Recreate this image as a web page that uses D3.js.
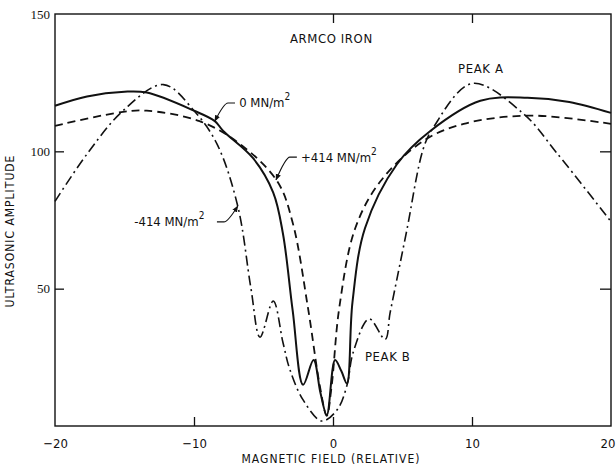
<!DOCTYPE html>
<html>
<head>
<meta charset="utf-8">
<script src="https://cdn.jsdelivr.net/npm/d3@7"></script>
<style>
  body { margin: 0; background: #fff; }
  svg { display: block; }
  .lbl { font-family: "Liberation Sans Narrow", "DejaVu Sans Condensed", "Liberation Sans", sans-serif; font-size: 12px; fill: #111; }
  .ytick { font-family: "Liberation Serif", "DejaVu Serif", serif; font-size: 13px; fill: #111; }
</style>
</head>
<body>
<div id="chart"></div>
<script>
// data (field in relative units, amplitude)
var solidX = [-20, -17.7, -15, -13.4, -10, -8.5, -7.9, -5.75, -4.3, -3.6, -2.9, -2.15, -1.4, -0.9, -0.45, 0.15, 0.6, 1.0, 1.4, 2.3, 4.6, 7, 10.6, 14, 17, 20];
var solidY = [116.6, 120, 121.7, 121.4, 114.8, 111, 107.4, 97.5, 85, 70, 42, 15, 24, 12, 4, 24, 20, 15.5, 45, 72, 95.3, 107.4, 118.4, 119.5, 118, 114];

var dashX = [-20, -15.1, -13.4, -9.6, -6.7, -4, -2.9, -1.8, -0.95, -0.45, -0.1, 0.45, 1.6, 3.4, 6.5, 9.4, 14.2, 20];
var dashY = [109.3, 114.4, 114.8, 111, 102.7, 89, 74, 43, 14.7, 3.7, 14.5, 43, 72, 89, 103.8, 110, 113, 110];

var dotX = [-20, -17.7, -15.1, -12.2, -10, -8.35, -6.85, -5.9, -5.25, -4.3, -3.6, -3.1, -2.15, -0.8, 0.3, 1, 1.45, 2.6, 3.75, 4.1, 4.7, 5.3, 6.5, 7.2, 10, 13.7, 16.1, 20];
var dotY = [81.8, 99, 114.8, 124.3, 114.8, 102.7, 80, 50, 32.3, 45.5, 30.4, 20.5, 9.5, 1.8, 5.9, 14.7, 26.8, 39, 31.5, 41, 56, 71, 101, 108.5, 124.7, 113.7, 99.4, 74.4];

var xTicks = [-20, -10, 0, 10, 20];
var yTicks = [50, 100, 150];

var margin = {top: 14, right: 5, bottom: 42, left: 55},
  width = 616 - margin.left - margin.right,
  height = 468 - margin.top - margin.bottom;

var svg = d3.select("#chart")
.append("svg")
  .attr("width", 616)
  .attr("height", 468)
.append("g")
  .attr("transform", "translate(" + margin.left + "," + margin.top + ")");

var x = d3.scaleLinear().domain([-20, 20]).range([0, width]);
var y = d3.scaleLinear().domain([0, 150]).range([height, 0]);

// frame
svg.append("rect")
  .attr("width", width).attr("height", height)
  .attr("fill", "none").attr("stroke", "#111").attr("stroke-width", 1.4);

// bottom axis, ticks pointing in
var xAxis = svg.append("g")
  .attr("transform", "translate(0," + height + ")")
  .call(d3.axisBottom(x).tickValues(xTicks).tickSizeInner(-9).tickSizeOuter(0).tickPadding(13));
xAxis.select(".domain").remove();
xAxis.selectAll(".tick line").attr("stroke", "#111").attr("stroke-width", 1.3)
  .filter(function(d) { return d == -20 || d == 20; }).remove();
xAxis.selectAll("text").attr("class", "lbl").attr("font-size", null).attr("font-family", null)
  .style("font-size", "13px");
// last label sits against the page edge
xAxis.selectAll("text").filter(function(d) { return d == 20; })
  .attr("text-anchor", "end").attr("x", 4);

// top ticks
svg.append("g")
  .call(d3.axisTop(x).tickValues([0, 10]).tickSizeInner(-9).tickSizeOuter(0).tickFormat(""))
  .call(function(g) { g.select(".domain").remove(); g.selectAll("line").attr("stroke", "#111").attr("stroke-width", 1.3); });

// left axis
var yAxis = svg.append("g")
  .call(d3.axisLeft(y).tickValues(yTicks).tickSizeInner(-9).tickSizeOuter(0).tickPadding(5));
yAxis.select(".domain").remove();
yAxis.selectAll(".tick line").attr("stroke", "#111").attr("stroke-width", 1.3)
  .filter(function(d) { return d == 150; }).remove();
yAxis.selectAll("text").attr("class", "ytick").attr("font-size", null).attr("font-family", null);

// right ticks
svg.append("g")
  .attr("transform", "translate(" + width + ",0)")
  .call(d3.axisRight(y).tickValues([50, 100]).tickSizeInner(-11).tickSizeOuter(0).tickFormat(""))
  .call(function(g) { g.select(".domain").remove(); g.selectAll("line").attr("stroke", "#111").attr("stroke-width", 1.3); });

// axis titles
svg.append("text")
  .attr("class", "lbl")
  .attr("x", x(0) - 2).attr("y", height + 37)
  .attr("text-anchor", "middle")
  .style("letter-spacing", "1px")
  .text("MAGNETIC FIELD (RELATIVE)");

svg.append("text")
  .attr("class", "lbl")
  .attr("transform", "translate(" + (-41) + "," + y(71) + ") rotate(-90)")
  .attr("text-anchor", "middle")
  .style("letter-spacing", "1px")
  .text("ULTRASONIC AMPLITUDE");

// curves
var line = d3.line()
  .x(function(d) { return x(d[0]); })
  .y(function(d) { return y(d[1]); })
  .curve(d3.curveCatmullRom.alpha(0.5));

var series = [
  {xs: solidX, ys: solidY, dash: null, w: 2},
  {xs: dashX, ys: dashY, dash: "8,5", w: 1.8},
  {xs: dotX, ys: dotY, dash: "10,4,2,4", w: 1.6}
];

series.forEach(function(s) {
  svg.append("path")
    .datum(d3.zip(s.xs, s.ys))
    .attr("d", line)
    .attr("fill", "none")
    .attr("stroke", "#111")
    .attr("stroke-width", s.w)
    .attr("stroke-dasharray", s.dash);
});

// text labels
var labels = [
  {t: "ARMCO IRON", x: -3.1, y: 139.5},
  {t: "PEAK A", x: 9, y: 128.5},
  {t: "PEAK B", x: 2.3, y: 23.5}
];
labels.forEach(function(l) {
  svg.append("text").attr("class", "lbl")
    .attr("x", x(l.x)).attr("y", y(l.y))
    .style("font-size", "13px")
    .style("letter-spacing", "0.6px")
    .text(l.t);
});

// stress labels with leader arrows: side = which side of the text the leader leaves from
var stress = [
  {t: "0 MN/m", x: -6.75, y: 116, from: [-7.05, 117.6], to: [-8.5, 111]},
  {t: "+414 MN/m", x: -2.3, y: 96, from: [-2.6, 97.9], to: [-4.1, 89.6]},
  {t: "-414 MN/m", x: -14.3, y: 72.8, from: [-8.35, 74.3], to: [-6.85, 80.1]}
];

svg.append("defs").append("marker")
  .attr("id", "arr")
  .attr("viewBox", "0 0 10 10")
  .attr("refX", 9).attr("refY", 5)
  .attr("markerWidth", 6).attr("markerHeight", 6)
  .attr("orient", "auto")
  .append("path").attr("d", "M0,1L10,5L0,9z").attr("fill", "#111");

stress.forEach(function(s) {
  var t = svg.append("text").attr("class", "lbl")
    .attr("x", x(s.x)).attr("y", y(s.y))
    .style("font-size", "13px")
    .text(s.t);
  t.append("tspan").attr("dy", -7).style("font-size", "10px").text("2");

  var x0 = x(s.from[0]), y0 = y(s.from[1]), x1 = x(s.to[0]), y1 = y(s.to[1]);
  var dir = x1 > x0 ? 1 : -1;
  var xh = x0 + dir * 7;
  svg.append("path")
    .attr("d", "M" + x0 + "," + y0 + "H" + xh + "Q" + (xh + dir * 4) + "," + y0 + " " + x1 + "," + y1)
    .attr("fill", "none").attr("stroke", "#111").attr("stroke-width", 1.1)
    .attr("marker-end", "url(#arr)");
});
</script>
</body>
</html>
